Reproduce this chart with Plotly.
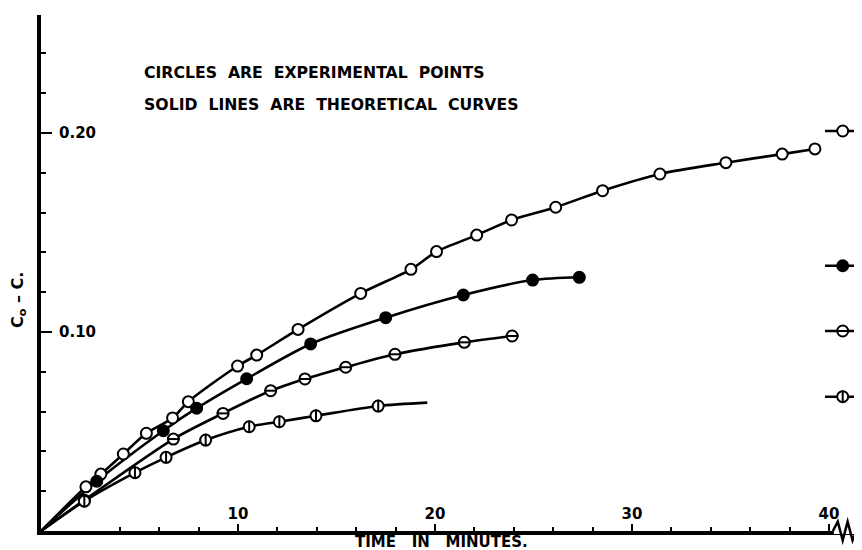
import plotly.graph_objects as go

# ---- experimental points (time in minutes, Co - C) ----
t_open = [2.28, 3.04, 4.18, 5.35, 6.68, 7.48, 9.98, 10.95, 13.05, 16.23, 18.78, 20.08,
          22.12, 23.89, 26.13, 28.51, 31.42, 34.77, 37.63, 39.29]
v_open = [0.0222, 0.0286, 0.0387, 0.0491, 0.0568, 0.0650, 0.0829, 0.0884, 0.1013, 0.1194,
          0.1315, 0.1404, 0.1487, 0.1563, 0.1627, 0.1710, 0.1794, 0.1851, 0.1894, 0.1920]

t_filled = [2.83, 6.21, 7.90, 10.44, 13.69, 17.50, 21.44, 24.96, 27.33]
v_filled = [0.0250, 0.0504, 0.0617, 0.0765, 0.0940, 0.1072, 0.1186, 0.1261, 0.1275]

t_hbar = [2.2, 6.72, 9.24, 11.66, 13.40, 15.47, 17.97, 21.49, 23.92]
v_hbar = [0.0155, 0.0462, 0.0591, 0.0705, 0.0764, 0.0823, 0.0888, 0.0948, 0.0980]

t_vbar = [2.2, 4.77, 6.35, 8.36, 10.57, 12.10, 13.96, 17.12]
v_vbar = [0.0150, 0.0293, 0.0370, 0.0457, 0.0524, 0.0549, 0.0579, 0.0628]

# ---- theoretical curves (nodes) ----
theo_open_t = [0.0] + t_open
theo_open_v = [0.0] + v_open
theo_filled_t = [0.0] + t_filled
theo_filled_v = [0.0] + v_filled
theo_hbar_t = [0.0] + t_hbar
theo_hbar_v = [0.0] + v_hbar
theo_vbar_t = [0.0] + t_vbar + [19.61]
theo_vbar_v = [0.0] + v_vbar + [0.0645]

# ---- values at infinite time (beyond axis break) ----
t_inf = 40.7
t_inf_seg = [39.8, 40.7, 42.0]
v_inf = {"open": 0.2010, "filled": 0.1333, "hbar": 0.1005, "vbar": 0.0675}

x_ticks = [10, 20, 30, 40]
y_ticks = [0.10, 0.20]
y_ticktext = ["0.10", "0.20"]

BLACK = "#000000"
FONT = "DejaVu Sans"
MS = 11

# The page body adds an 8 px offset; the figure is sized to fill the rest.
W, H = 854, 542
ML, MT, MB = 33, 7, 19
PW, PH = W - ML, H - MT - MB

fig = go.Figure()

def curve(t, v):
    fig.add_trace(go.Scatter(x=t, y=v, mode="lines",
                             line=dict(color=BLACK, width=2.6, shape="spline", smoothing=0.8),
                             hoverinfo="skip", showlegend=False))

curve(theo_open_t, theo_open_v)
curve(theo_filled_t, theo_filled_v)
curve(theo_hbar_t, theo_hbar_v)
curve(theo_vbar_t, theo_vbar_v)

for key in ["open", "filled", "hbar", "vbar"]:
    fig.add_trace(go.Scatter(x=t_inf_seg, y=[v_inf[key]] * 3, mode="lines",
                             line=dict(color=BLACK, width=2.6), hoverinfo="skip",
                             showlegend=False))

def points(t, v, kind):
    fill = BLACK if kind == "filled" else "white"
    fig.add_trace(go.Scatter(x=t, y=v, mode="markers",
                             marker=dict(symbol="circle", size=MS, color=fill,
                                         line=dict(color=BLACK, width=2)),
                             showlegend=False))
    if kind in ("hbar", "vbar"):
        fig.add_trace(go.Scatter(x=t, y=v, mode="markers",
                                 marker=dict(symbol="line-ew" if kind == "hbar" else "line-ns",
                                             size=MS - 2, color=BLACK,
                                             line=dict(color=BLACK, width=2)),
                                 hoverinfo="skip", showlegend=False))

points(t_open, v_open, "open")
points(t_filled, v_filled, "filled")
points(t_hbar, v_hbar, "hbar")
points(t_vbar, v_vbar, "vbar")
for key in ["open", "filled", "hbar", "vbar"]:
    points([t_inf], [v_inf[key]], key)

tickfont = dict(family=FONT, size=15, color=BLACK, weight="bold")

fig.update_layout(
    width=W, height=H,
    margin=dict(l=ML, r=0, t=MT, b=MB, pad=0),
    paper_bgcolor="white", plot_bgcolor="white",
    font=dict(family=FONT, color=BLACK, size=15),
    showlegend=False,
    xaxis=dict(range=[0, 41.68], showgrid=False, zeroline=False,
               showline=True, linecolor=BLACK, linewidth=4,
               tickmode="array", tickvals=x_ticks, ticks="inside", ticklen=7,
               tickwidth=2, tickcolor=BLACK, ticklabelposition="inside",
               ticklabelstandoff=2, tickfont=tickfont,
               minor=dict(dtick=2, tick0=0, ticks="inside", ticklen=4,
                          tickwidth=2, tickcolor=BLACK)),
    yaxis=dict(range=[0, 0.2593], showgrid=False, zeroline=False,
               showline=True, linecolor=BLACK, linewidth=4,
               tickmode="array", tickvals=y_ticks, ticktext=y_ticktext,
               ticks="inside", ticklen=11, tickwidth=2, tickcolor=BLACK,
               ticklabelposition="inside", ticklabelstandoff=7, tickfont=tickfont,
               minor=dict(dtick=0.02, tick0=0, ticks="inside", ticklen=5,
                          tickwidth=2, tickcolor=BLACK)),
)

def px_x(page_x):
    return (page_x - 8 - ML) / PW

def px_y(page_y):
    return (H - MB - (page_y - 8)) / PH

NB = "\u00a0"
fig.add_annotation(xref="paper", yref="paper", x=px_x(142), y=px_y(73),
                   xanchor="left", yanchor="middle", showarrow=False,
                   text=f"CIRCLES{NB*2}ARE{NB*2}EXPERIMENTAL{NB*2}POINTS",
                   font=dict(size=15.7, weight="bold"))
fig.add_annotation(xref="paper", yref="paper", x=px_x(142), y=px_y(105),
                   xanchor="left", yanchor="middle", showarrow=False,
                   text=f"SOLID{NB*2}LINES{NB*2}ARE{NB*2}THEORETICAL{NB*2}CURVES",
                   font=dict(size=15.7, weight="bold"))
fig.add_annotation(xref="paper", yref="paper", x=px_x(441), y=px_y(542),
                   xanchor="center", yanchor="middle", showarrow=False,
                   text=f"TIME{NB*3}IN{NB*3}MINUTES.", font=dict(size=15, weight="bold"))
fig.add_annotation(xref="paper", yref="paper", x=px_x(18), y=px_y(300),
                   xanchor="center", yanchor="middle", showarrow=False, textangle=-90,
                   text="C<sub>o</sub> – C.", font=dict(size=16, weight="bold"))

# axis break on the time axis
fig.add_shape(type="line", xref="x", yref="paper", x0=40.25, x1=41.3, y0=0, y1=0,
              line=dict(color="white", width=6), layer="above")
fig.add_shape(type="path", xref="x", yref="paper", layer="above",
              path="M 40.2,0 L 40.45,0.018 L 40.7,-0.018 L 40.95,0.018 L 41.2,-0.018 L 41.4,0",
              line=dict(color=BLACK, width=2.5))

fig.write_html("out.html")
